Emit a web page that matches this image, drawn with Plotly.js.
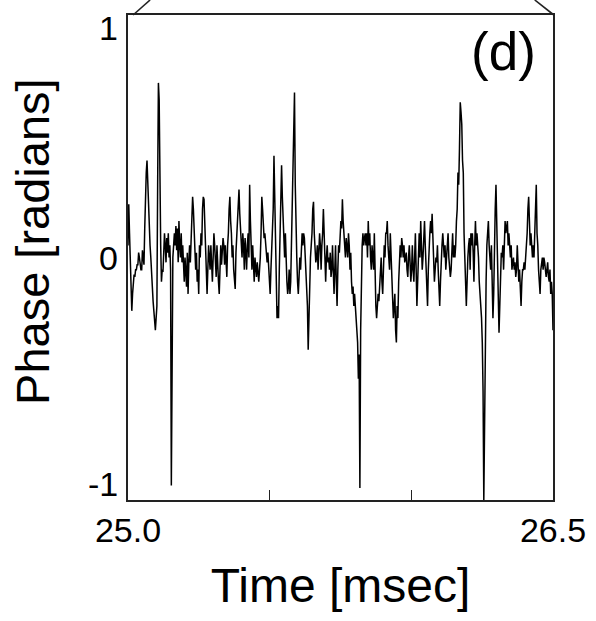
<!DOCTYPE html>
<html>
<head>
<meta charset="utf-8">
<script src="https://cdn.plot.ly/plotly-3.0.1.min.js"></script>
<style>html,body{margin:0;padding:0;background:#fff;}#chart{width:596px;height:621px;}</style>
</head>
<body>
<div id="chart"></div>
<script>
// Time window (msec) and phase samples (radians)
const timeStart = 25.0;
const timeEnd = 26.5;
const phase = [
0.05,0.22,0.1,-0.02,-0.05,-0.22,-0.15,-0.1,-0.07,-0.08,
-0.05,-0.05,-0.03,-0.03,0.02,0.0,-0.02,-0.05,-0.05,0.03,
0.0,-0.03,0.12,0.3,0.35,0.4,0.3,0.2,0.1,0.05,
0.0,-0.08,-0.12,-0.18,-0.22,-0.28,-0.3,-0.25,-0.2,0.3,
0.72,0.65,0.2,0.05,-0.1,
-0.05,-0.06,0.0,0.1,0.05,-0.02,0.08,0.02,0.1,0.0,0.05,-0.05,
-0.94,-0.2,
0.0,0.05,0.1,0.05,0.13,0.03,0.12,-0.02,0.15,0.05,0.0,0.1,-0.02,0.05,-0.08,-0.1,0.0,-0.05,-0.12,0.02,-0.15,-0.02,0.05,-0.02,
0.05,0.15,0.25,0.2,0.12,0.05,-0.05,0.02,-0.1,-0.05,-0.15,0.05,0.0,0.1,0.05,0.2,0.25,0.24,0.15,0.05,-0.05,-0.15,-0.05,0.05,0.0,
-0.05,0.05,-0.02,-0.1,0.0,0.1,0.05,-0.05,-0.08,0.05,-0.05,-0.1,-0.15,-0.05,0.05,-0.03,0.02,0.08,0.05,-0.03,0.05,0.0,-0.08,0.05,0.1,
0.2,0.25,0.15,0.1,0.0,0.05,-0.05,-0.1,-0.13,0.02,0.1,0.15,0.2,0.28,0.18,0.1,0.05,0.0,0.1,0.05,-0.05,0.08,0.02,-0.05,0.05,
0.1,0.0,0.3,0.15,0.05,-0.05,0.05,-0.08,-0.1,0.0,-0.05,-0.08,-0.02,-0.05,-0.1,-0.05,0.0,0.1,0.25,0.2,0.15,0.08,0.1,0.05,0.0,
-0.02,0.02,-0.05,-0.08,-0.15,-0.05,0.05,0.1,0.2,0.42,0.2,0.05,-0.2,-0.25,-0.2,-0.25,-0.05,0.1,0.3,0.38,0.25,0.15,0.05,0.0,0.1,
-0.05,-0.1,-0.15,-0.12,-0.05,-0.15,-0.1,0.05,0.2,0.35,0.5,0.68,0.3,0.1,0.0,-0.1,-0.15,-0.08,0.0,-0.05,0.05,0.1,0.05,0.1,0.08,
0.0,-0.05,-0.1,-0.2,-0.38,-0.2,-0.05,0.0,0.05,0.1,0.2,0.23,0.1,0.05,-0.02,0.0,0.05,-0.05,0.02,0.1,0.05,-0.05,0.05,0.1,0.2,
0.1,0.0,-0.1,0.0,0.05,-0.02,0.0,-0.05,0.02,-0.08,-0.05,0.05,-0.05,-0.15,-0.05,0.05,-0.1,-0.2,-0.05,0.05,0.02,0.1,0.15,0.12,0.24,
0.15,0.1,0.05,0.0,0.08,0.05,0.0,0.1,0.05,-0.05,0.02,-0.1,-0.15,-0.12,-0.2,-0.15,-0.22,-0.25,-0.3,-0.35,-0.5,-0.4,-0.95,-0.3,-0.1,
0.05,0.1,0.05,0.08,0.1,0.05,0.1,0.0,0.15,0.05,0.1,0.0,-0.05,0.05,0.0,-0.05,0.1,-0.1,-0.2,-0.25,-0.2,-0.15,-0.18,-0.1,-0.05,
0.0,-0.1,-0.15,-0.05,0.05,0.0,0.1,0.1,0.15,0.05,0.0,-0.05,0.1,0.02,-0.05,-0.15,-0.25,-0.2,-0.15,-0.3,-0.35,-0.2,-0.25,-0.1,0.0,
0.05,0.0,0.08,0.05,0.0,0.05,-0.02,0.0,0.02,-0.05,-0.08,0.0,0.05,-0.02,-0.1,-0.05,0.05,-0.05,-0.1,0.0,0.1,-0.05,-0.2,-0.1,0.05,
0.1,0.0,0.15,0.05,-0.05,0.0,0.1,0.15,0.05,-0.05,-0.1,-0.2,-0.05,0.08,0.1,0.15,0.1,0.18,0.05,-0.05,-0.1,-0.05,0.0,-0.02,0.05,
-0.05,-0.15,-0.2,-0.1,0.0,0.05,0.1,0.05,0.0,0.05,-0.05,0.0,0.05,0.1,0.0,-0.05,-0.08,-0.05,0.02,0.1,0.0,0.05,0.0,0.05,0.15,
0.2,0.35,0.3,0.45,0.64,0.6,0.55,0.4,0.35,0.1,-0.05,-0.1,-0.2,-0.05,0.0,0.05,0.08,-0.05,0.1,0.05,0.1,0.02,-0.1,0.05,0.15,
0.05,0.1,0.05,0.0,-0.1,-0.15,-0.2,-0.25,-0.35,-0.55,-1.0,-0.6,-0.25,-0.1,0.05,0.1,0.15,0.05,0.0,-0.05,0.05,-0.15,-0.25,-0.15,0.1,
0.2,0.3,0.15,-0.05,-0.15,-0.31,-0.2,-0.05,0.02,0.0,0.05,-0.05,0.1,0.15,0.1,0.12,0.15,0.05,0.1,0.05,0.0,0.05,-0.05,-0.02,0.0,
-0.05,-0.02,-0.08,-0.05,0.05,-0.02,-0.1,-0.05,-0.15,-0.2,-0.1,-0.05,-0.05,-0.02,-0.05,0.0,0.05,0.1,0.2,0.25,0.15,0.05,0.1,0.05,0.0,
0.05,0.0,0.1,0.2,0.3,0.1,0.05,-0.05,-0.13,-0.15,-0.05,-0.02,0.0,-0.05,0.0,-0.02,-0.05,-0.08,-0.05,-0.02,-0.08,-0.1,-0.05,-0.15,-0.1,-0.15,-0.3
];
// Evenly sampled time axis spanning the window
const time = phase.map((_, i) => timeStart + i * (timeEnd - timeStart) / (phase.length - 1));

const xTickVals = [25.0, 25.5, 26.0, 26.5];
const xTickText = ['25.0', '', '', '26.5'];
const yTickVals = [-1, 0, 1];
const yTickText = ['-1', '0', '1'];
// label placement relative to each y tick (top label sits below the top edge, bottom label above the bottom edge)
const yLabelAnchor = ['bottom', 'middle', 'top'];
const yLabelShift = [-5, 0, 8];

const FONT = 'Liberation Sans, Arial, Helvetica, sans-serif';

const trace = {
  x: time, y: phase, type: 'scatter', mode: 'lines',
  line: {color: '#000', width: 1.5}, hoverinfo: 'skip'
};

const yLabelAnnotations = yTickVals.map((v, i) => ({
  text: yTickText[i], xref: 'paper', yref: 'y', x: 0, y: v,
  xanchor: 'right', yanchor: yLabelAnchor[i], xshift: -8, yshift: yLabelShift[i],
  showarrow: false, font: {size: 34, family: FONT, color: '#000'}
}));

const layout = {
  width: 596, height: 621,
  margin: {l: 128, r: 43, t: 15, b: 121},
  paper_bgcolor: '#fff', plot_bgcolor: '#fff',
  showlegend: false,
  font: {family: FONT, color: '#000'},
  xaxis: {
    range: [timeStart, timeEnd],
    tickvals: xTickVals, ticktext: xTickText,
    ticks: 'inside', ticklen: 10, tickwidth: 1.3, tickcolor: '#222',
    showline: true, mirror: true, linecolor: '#222', linewidth: 1.6,
    showgrid: false, zeroline: false,
    tickfont: {size: 34, family: FONT, color: '#000'},
    ticklabelstandoff: 0, ticklabeloverflow: 'allow',
    title: {text: 'Time [msec]', font: {size: 48, family: FONT, color: '#000'}, standoff: 20}
  },
  yaxis: {
    range: [-1, 1],
    tickvals: yTickVals, showticklabels: false,
    ticks: '', showline: true, mirror: true, linecolor: '#222', linewidth: 1.6,
    showgrid: false, zeroline: false
  },
  annotations: yLabelAnnotations.concat([
    {
      text: 'Phase [radians]', xref: 'paper', yref: 'paper', x: -0.226, y: 0.534,
      xanchor: 'center', yanchor: 'middle', textangle: -90, showarrow: false,
      font: {size: 47, family: FONT, color: '#000'}
    },
    {
      text: '(d)', xref: 'paper', yref: 'paper', x: 0.884, y: 0.925,
      xanchor: 'center', yanchor: 'middle', showarrow: false,
      font: {size: 53, family: FONT, color: '#000'}
    }
  ]),
  shapes: [
    {type: 'line', xref: 'paper', yref: 'paper', x0: 0.012, y0: 1.0, x1: 0.052, y1: 1.031, line: {color: '#222', width: 1.6}},
    {type: 'line', xref: 'paper', yref: 'paper', x0: 1.002, y0: 1.0, x1: 0.957, y1: 1.031, line: {color: '#222', width: 1.6}}
  ]
};

Plotly.newPlot('chart', [trace], layout, {displayModeBar: false, staticPlot: true});
</script>
</body>
</html>
